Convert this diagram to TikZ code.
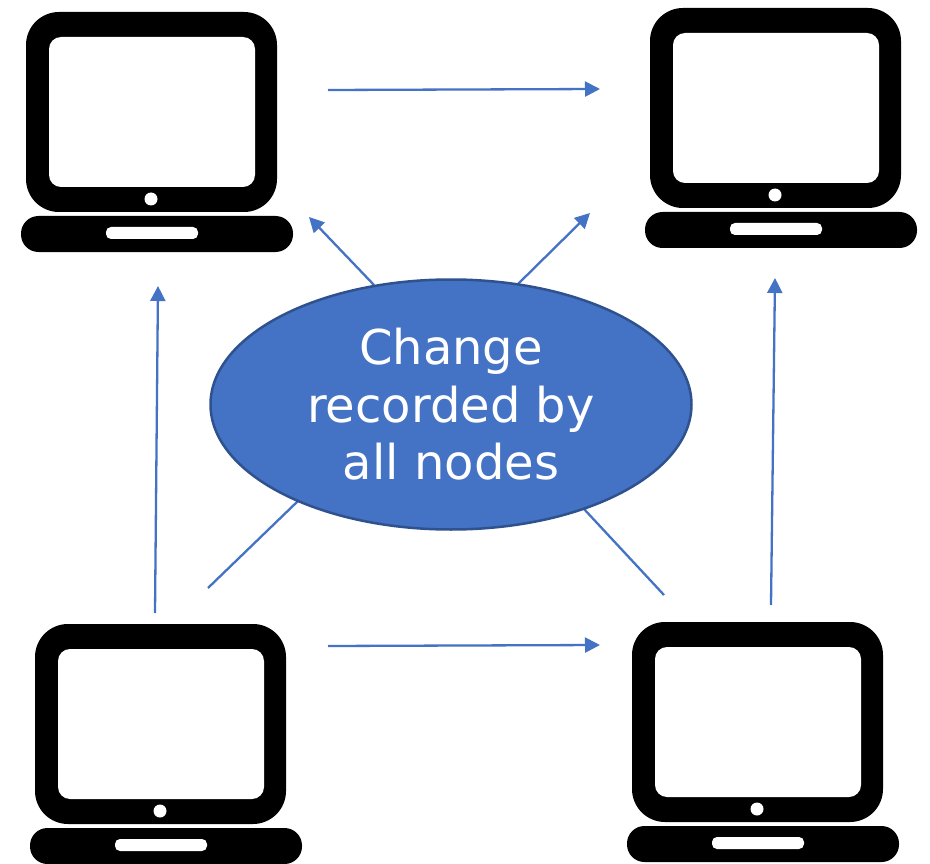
\documentclass[tikz,border=0pt]{standalone}
\usepackage{fontspec}
\setmainfont{DejaVu Sans}
\usetikzlibrary{shapes.geometric,arrows.meta}
\definecolor{accent}{HTML}{4472C4}
\definecolor{accentdark}{HTML}{2F528F}
\tikzset{
  x=1pt,y=-1pt,
  link/.style={draw=accent,line width=2.3pt},
  flow/.style={link,-{Triangle[length=15pt,width=15pt]}},
  hub/.style={ellipse,draw=accentdark,line width=2.5pt,fill=accent,inner sep=0pt,
    minimum width=481pt,minimum height=250pt,text=white,align=center,
    font=\fontsize{48}{57.5}\selectfont},
  laptop/.pic={
    \fill[black,rounded corners=33pt] (26,12) rectangle (277,212);
    \fill[white,rounded corners=12pt] (49,37) rectangle (255,187);
    \fill[white] (151,199) circle (6.5);
    \fill[black,rounded corners=17.5pt] (21,216) rectangle (293,252);
    \fill[white,rounded corners=5pt] (106,227) rectangle (198,239);
    \coordinate (-c) at (151,132);
  }
}
\begin{document}
\begin{tikzpicture}
\useasboundingbox (0,0) rectangle (930,864);
\fill[white] (0,0) rectangle (930,864);
\pic (lapA) at (0,0) {laptop};
\pic (lapB) at (624,-4) {laptop};
\pic (lapC) at (9,612) {laptop};
\pic (lapD) at (606,610) {laptop};
\coordinate (ab1) at (328,90);   \coordinate (ab2) at (600,89);
\coordinate (cd1) at (328,646);  \coordinate (cd2) at (600,645);
\coordinate (ca1) at (155,613);  \coordinate (ca2) at (158,286);
\coordinate (db1) at (771,605);  \coordinate (db2) at (775,278);
\coordinate (ha1) at (374,285);  \coordinate (ha2) at (309,217);
\coordinate (hb1) at (518,284);  \coordinate (hb2) at (590,213);
\coordinate (hc1) at (208,588);  \coordinate (hc2) at (298,501);
\coordinate (hd1) at (664,595);  \coordinate (hd2) at (584,509);
\draw[flow] (ab1) -- (ab2);
\draw[flow] (cd1) -- (cd2);
\draw[flow] (ca1) -- (ca2);
\draw[flow] (db1) -- (db2);
\draw[flow] (ha1) -- (ha2);
\draw[flow] (hb1) -- (hb2);
\draw[link] (hc1) -- (hc2);
\draw[link] (hd1) -- (hd2);
\node[hub] (hub) at (451,404.5) {Change\\recorded by\\all nodes};
\end{tikzpicture}
\end{document}
